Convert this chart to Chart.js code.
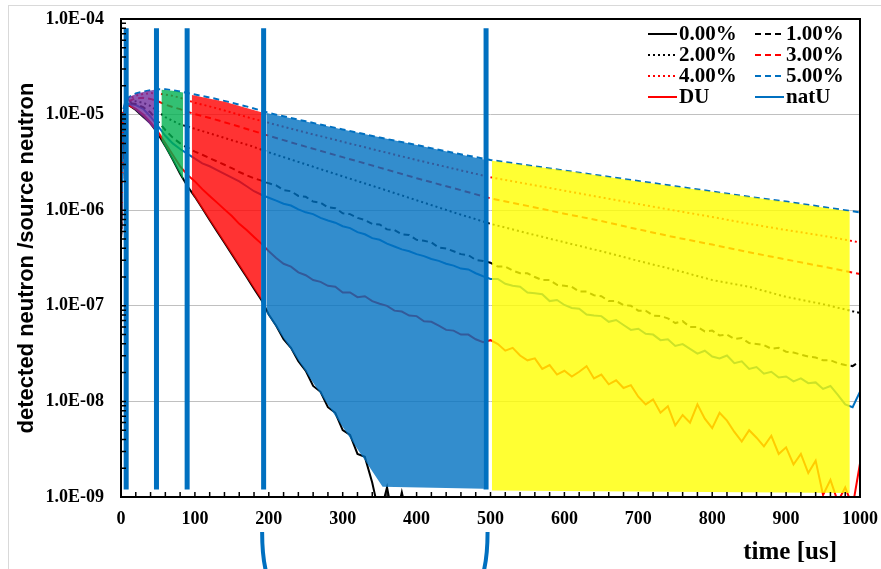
<!DOCTYPE html>
<html>
<head>
<meta charset="utf-8">
<title>detected neutron / source neutron</title>
<script src="https://cdn.jsdelivr.net/npm/chart.js@4.4.1/dist/chart.umd.min.js"></script>
<style>
  html, body { margin: 0; padding: 0; background: #fff; }
  #wrap { width: 881px; height: 569px; }
</style>
</head>
<body>
<div id="wrap"><canvas id="chart" width="881" height="569"></canvas></div>
<script>
// ================================
// DATA
// ================================
const timeSmooth = [0, 3, 6, 10, 20, 30, 40, 50, 60, 70, 80, 90, 100, 125, 150, 175, 200,
  250, 300, 350, 400, 450, 500, 550, 600, 650, 700, 750, 800, 850, 900, 950, 1000];

const pct5 = [5.0e-7, 1.12e-5, 1.38e-5, 1.51e-5, 1.66e-5, 1.74e-5, 1.80e-5, 1.84e-5, 1.84e-5, 1.80e-5,
  1.74e-5, 1.68e-5, 1.62e-5, 1.48e-5, 1.33e-5, 1.19e-5, 1.04e-5,
  8.5e-6, 7.0e-6, 5.75e-6, 4.8e-6, 3.98e-6, 3.35e-6, 2.95e-6, 2.6e-6, 2.29e-6, 2.02e-6,
  1.78e-6, 1.57e-6, 1.38e-6, 1.23e-6, 1.08e-6, 9.5e-7];

const pct4 = [5.0e-7, 1.10e-5, 1.35e-5, 1.45e-5, 1.58e-5, 1.64e-5, 1.68e-5, 1.66e-5, 1.62e-5, 1.57e-5,
  1.50e-5, 1.41e-5, 1.33e-5, 1.19e-5, 1.05e-5, 9.2e-6, 8.2e-6,
  6.5e-6, 5.2e-6, 4.17e-6, 3.35e-6, 2.72e-6, 2.21e-6, 1.88e-6, 1.60e-6, 1.36e-6, 1.16e-6,
  9.9e-7, 8.5e-7, 7.2e-7, 6.2e-7, 5.4e-7, 4.6e-7];

const pct3 = [5.0e-7, 1.07e-5, 1.32e-5, 1.38e-5, 1.48e-5, 1.50e-5, 1.46e-5, 1.38e-5, 1.27e-5, 1.20e-5,
  1.14e-5, 1.07e-5, 1.01e-5, 9.0e-6, 7.9e-6, 6.9e-6, 6.0e-6,
  4.62e-6, 3.59e-6, 2.79e-6, 2.16e-6, 1.70e-6, 1.33e-6, 1.11e-6, 9.2e-7, 7.7e-7, 6.3e-7,
  5.2e-7, 4.37e-7, 3.63e-7, 3.05e-7, 2.57e-7, 2.15e-7];

const pct2 = [5.0e-7, 1.05e-5, 1.29e-5, 1.35e-5, 1.38e-5, 1.33e-5, 1.23e-5, 1.08e-5, 9.4e-6, 8.6e-6,
  7.9e-6, 7.5e-6, 7.1e-6, 6.2e-6, 5.4e-6, 4.73e-6, 4.03e-6,
  3.02e-6, 2.26e-6, 1.70e-6, 1.27e-6, 9.5e-7, 7.2e-7, 5.75e-7, 4.62e-7, 3.72e-7, 2.95e-7,
  2.37e-7, 1.86e-7, 1.58e-7, 1.24e-7, 1.04e-7, 8.4e-8];

const timeNoisy = [0, 3, 6, 10, 20, 30, 40, 50, 60, 70, 80, 90, 100,
  110, 120, 130, 140, 150, 160, 170, 180, 190, 200,
  210, 220, 230, 240, 250, 260, 270, 280, 290, 300,
  310, 320, 330, 340, 350, 360, 370, 380, 390, 400,
  410, 420, 430, 440, 450, 460, 470, 480, 490, 500,
  510, 520, 530, 540, 550, 560, 570, 580, 590, 600,
  610, 620, 630, 640, 650, 660, 670, 680, 690, 700,
  710, 720, 730, 740, 750, 760, 770, 780, 790, 800,
  810, 820, 830, 840, 850, 860, 870, 880, 890, 900,
  910, 920, 930, 940, 950, 960, 970, 980, 990, 1000];

const pct1 = [5.0e-7, 1.02e-5, 1.26e-5, 1.32e-5, 1.29e-5, 1.20e-5, 1.05e-5, 8.5e-6, 6.9e-6, 5.75e-6, 5.0e-6, 4.5e-6, 4.1e-6,
  3.8e-6, 3.5e-6, 3.24e-6, 2.99e-6, 2.75e-6, 2.51e-6, 2.32e-6, 2.16e-6, 2.04e-6, 1.91e-6,
  1.82e-6, 1.62e-6, 1.58e-6, 1.41e-6, 1.38e-6, 1.23e-6, 1.20e-6, 1.07e-6, 1.05e-6, 9.3e-7,
  9.1e-7, 8.3e-7, 7.9e-7, 7.2e-7, 7.1e-7, 6.3e-7, 6.2e-7, 5.6e-7, 5.5e-7, 4.9e-7,
  4.8e-7, 4.6e-7, 4.07e-7, 3.98e-7, 3.72e-7, 3.47e-7, 3.39e-7, 3.02e-7, 2.95e-7, 2.82e-7,
  2.57e-7, 2.57e-7, 2.34e-7, 2.19e-7, 2.19e-7, 2.0e-7, 1.86e-7, 1.86e-7, 1.66e-7, 1.62e-7,
  1.58e-7, 1.41e-7, 1.41e-7, 1.29e-7, 1.26e-7, 1.12e-7, 1.12e-7, 1.02e-7, 1.0e-7, 8.9e-8,
  8.9e-8, 7.9e-8, 7.8e-8, 7.4e-8, 6.6e-8, 6.9e-8, 6.0e-8, 6.0e-8, 5.4e-8, 5.5e-8,
  4.9e-8, 5.0e-8, 4.5e-8, 4.6e-8, 4.07e-8, 3.98e-8, 3.89e-8, 3.55e-8, 3.63e-8, 3.31e-8,
  3.24e-8, 3.09e-8, 2.95e-8, 2.88e-8, 2.69e-8, 2.69e-8, 2.51e-8, 2.40e-8, 2.34e-8, 2.63e-8];

const natU = [5.0e-7, 1.0e-5, 1.23e-5, 1.29e-5, 1.26e-5, 1.15e-5, 9.5e-6, 7.6e-6, 6.0e-6, 5.0e-6, 4.37e-6, 3.89e-6, 3.47e-6,
  3.09e-6, 2.88e-6, 2.63e-6, 2.40e-6, 2.19e-6, 2.0e-6, 1.78e-6, 1.58e-6, 1.45e-6, 1.35e-6,
  1.26e-6, 1.17e-6, 1.12e-6, 1.02e-6, 9.5e-7, 9.1e-7, 8.3e-7, 7.8e-7, 7.4e-7, 6.8e-7,
  6.5e-7, 5.9e-7, 5.6e-7, 5.1e-7, 4.9e-7, 4.47e-7, 4.17e-7, 3.89e-7, 3.72e-7, 3.47e-7,
  3.31e-7, 3.09e-7, 2.95e-7, 2.75e-7, 2.63e-7, 2.45e-7, 2.40e-7, 2.19e-7, 2.04e-7, 1.91e-7,
  1.91e-7, 1.70e-7, 1.62e-7, 1.58e-7, 1.38e-7, 1.35e-7, 1.32e-7, 1.12e-7, 1.15e-7, 1.02e-7,
  9.5e-8, 9.3e-8, 8.1e-8, 7.9e-8, 7.8e-8, 6.8e-8, 7.1e-8, 6.3e-8, 5.6e-8, 5.75e-8,
  5.1e-8, 5.0e-8, 4.37e-8, 4.47e-8, 3.8e-8, 3.98e-8, 3.55e-8, 3.16e-8, 3.39e-8, 2.95e-8,
  2.82e-8, 3.02e-8, 2.51e-8, 2.63e-8, 2.19e-8, 2.29e-8, 1.95e-8, 2.04e-8, 1.78e-8, 1.82e-8,
  1.62e-8, 1.74e-8, 1.55e-8, 1.58e-8, 1.35e-8, 1.45e-8, 1.17e-8, 9.3e-9, 8.7e-9, 1.26e-8];

const DU = [5.0e-7, 9.8e-6, 1.20e-5, 1.26e-5, 1.15e-5, 1.0e-5, 8.3e-6, 6.6e-6, 5.0e-6, 3.8e-6, 2.88e-6, 2.34e-6, 2.0e-6,
  1.66e-6, 1.41e-6, 1.20e-6, 1.02e-6, 8.7e-7, 7.2e-7, 6.2e-7, 5.25e-7, 4.47e-7, 3.72e-7,
  3.16e-7, 2.75e-7, 2.57e-7, 2.24e-7, 2.09e-7, 1.86e-7, 1.78e-7, 1.62e-7, 1.58e-7, 1.38e-7,
  1.38e-7, 1.23e-7, 1.26e-7, 1.12e-7, 1.05e-7, 1.0e-7, 8.9e-8, 8.7e-8, 7.9e-8, 7.8e-8,
  6.9e-8, 6.8e-8, 6.2e-8, 5.6e-8, 5.5e-8, 5.0e-8, 5.0e-8, 4.47e-8, 4.17e-8, 4.37e-8,
  3.98e-8, 3.39e-8, 3.63e-8, 3.02e-8, 2.69e-8, 2.82e-8, 2.19e-8, 2.40e-8, 1.91e-8, 2.09e-8,
  1.82e-8, 2.04e-8, 2.34e-8, 1.74e-8, 1.91e-8, 1.51e-8, 1.66e-8, 1.38e-8, 1.48e-8, 1.12e-8,
  9.3e-9, 1.05e-8, 7.6e-9, 8.9e-9, 5.6e-9, 7.2e-9, 6.0e-9, 9.3e-9, 6.6e-9, 5.25e-9,
  7.6e-9, 6.3e-9, 4.79e-9, 3.8e-9, 5.0e-9, 4.17e-9, 3.39e-9, 4.37e-9, 2.82e-9, 3.31e-9,
  2.19e-9, 2.82e-9, 1.78e-9, 2.40e-9, 1.05e-9, 1.51e-9, 8.9e-10, 1.26e-9, 7.9e-10, 2.24e-9];

// 0.00% falls off the bottom of the axis after ~400 us
const pct0 = [5.0e-7, 9.5e-6, 1.20e-5, 1.26e-5, 1.12e-5, 9.5e-6, 8.1e-6, 6.3e-6, 4.68e-6, 3.39e-6, 2.40e-6, 1.78e-6, 1.38e-6,
  1.05e-6, 7.9e-7, 6.0e-7, 4.57e-7, 3.47e-7, 2.63e-7, 2.0e-7, 1.51e-7, 1.15e-7, 8.1e-8,
  6.2e-8, 4.47e-8, 3.63e-8, 2.63e-8, 2.09e-8, 1.45e-8, 1.26e-8, 8.7e-9, 7.6e-9, 5.0e-9,
  4.47e-9, 2.82e-9, 2.63e-9, 1.41e-9, 6.3e-10, 1.26e-9, 5.0e-10, 1.12e-9, 5.0e-10, 3.2e-10];

// shaded time windows, [time, value] corners
const purpleArea = [[10, 1.52e-5], [20, 1.64e-5], [30, 1.72e-5], [45, 1.82e-5], [45, 7.0e-6], [30, 9.4e-6], [20, 1.1e-5], [10, 1.28e-5]];
const greenArea = [[55, 1.82e-5], [70, 1.78e-5], [84, 1.70e-5], [84, 2.1e-6], [55, 5.3e-6]];
const redArea = [[96, 1.60e-5], [140, 1.36e-5], [190, 1.06e-5], [190, 1.14e-7], [96, 1.5e-6]];
const blueArea = [[197, 1.04e-5], [300, 7.0e-6], [400, 4.8e-6], [491, 3.4e-6], [491, 1.22e-9], [354, 1.28e-9], [197, 8.4e-8]];
const yellowArea = [[502, 3.3e-6], [600, 2.6e-6], [700, 2.0e-6], [800, 1.56e-6], [900, 1.22e-6], [986, 9.7e-7], [986, 1.1e-9], [502, 1.17e-9]];

// vertical window markers
const markerTimes = [7, 48, 89.5, 193, 494];
const markerRange = [8.0e-5, 1.2e-9];
const bracketTimes = [193, 494];

const xTickValues = [0, 100, 200, 300, 400, 500, 600, 700, 800, 900, 1000];
const yTickValues = [1e-9, 1e-8, 1e-7, 1e-6, 1e-5, 1e-4];
const yTickLabels = ['1.0E-09', '1.0E-08', '1.0E-07', '1.0E-06', '1.0E-05', '1.0E-04'];
const legendOrder = ['0.00%', '1.00%', '2.00%', '3.00%', '4.00%', '5.00%', 'DU', 'natU'];
const xTitle = 'time [us]';
const yTitle = 'detected neutron /source neutron';

// ================================
// DATASETS
// ================================
const BLUE = '#0070C0';
const DASH = [6, 4];
const DOT = [2, 3];

function pairs(t, v) {
    return v.map((val, i) => ({ x: t[i], y: val }));
}

const markerSets = markerTimes.map(t => ({
    label: 'marker',
    data: markerRange.map(v => ({ x: t, y: v })),
    borderColor: BLUE,
    borderWidth: 5,
    pointRadius: 0,
    fill: false
}));

const areaSets = [
    [purpleArea, 'rgba(112,48,160,0.8)'],
    [greenArea, 'rgba(0,176,80,0.8)'],
    [redArea, 'rgba(255,0,0,0.8)'],
    [blueArea, 'rgba(0,112,192,0.8)'],
    [yellowArea, 'rgba(255,255,0,0.8)']
].map(([pts, color]) => ({
    label: 'area',
    data: pts.map(([t, v]) => ({ x: t, y: v })),
    borderColor: 'rgba(0,0,0,0)',
    borderWidth: 0,
    backgroundColor: color,
    fill: 'shape',
    pointRadius: 0,
    tension: 0
}));

const seriesSets = [
    { label: '5.00%', data: pairs(timeSmooth, pct5), borderColor: BLUE, borderDash: DASH },
    { label: '4.00%', data: pairs(timeSmooth, pct4), borderColor: '#FF0000', borderDash: DOT },
    { label: '3.00%', data: pairs(timeSmooth, pct3), borderColor: '#FF0000', borderDash: DASH },
    { label: '2.00%', data: pairs(timeSmooth, pct2), borderColor: '#000000', borderDash: DOT },
    { label: '1.00%', data: pairs(timeNoisy, pct1), borderColor: '#000000', borderDash: DASH },
    { label: 'natU', data: pairs(timeNoisy, natU), borderColor: BLUE, borderDash: [] },
    { label: 'DU', data: pairs(timeNoisy, DU), borderColor: '#FF0000', borderDash: [] },
    { label: '0.00%', data: pairs(timeNoisy, pct0), borderColor: '#000000', borderDash: [] }
].map(s => Object.assign(s, { borderWidth: 2, pointRadius: 0, fill: false, tension: 0 }));

// ================================
// PLUGINS
// ================================
const framePlugin = {
    id: 'frame',
    afterDraw(chart) {
        const { ctx, chartArea: a, scales: { x, y } } = chart;
        ctx.save();

        // light outer border of the picture
        ctx.strokeStyle = '#D9D9D9';
        ctx.lineWidth = 1;
        ctx.strokeRect(8.5, 5.5, 900, 600);

        // inside tick marks
        ctx.strokeStyle = '#000';
        ctx.lineWidth = 1.5;
        ctx.beginPath();
        for (let t = 0; t <= 1000; t += 20) {
            const px = x.getPixelForValue(t);
            ctx.moveTo(px, a.bottom);
            ctx.lineTo(px, a.bottom - 5);
        }
        for (let e = -9; e < -4; e++) {
            for (let k = 1; k < 10; k++) {
                const py = y.getPixelForValue(k * Math.pow(10, e));
                ctx.moveTo(a.left, py);
                ctx.lineTo(a.left + 5, py);
            }
        }
        ctx.stroke();

        ctx.lineWidth = 2;
        ctx.strokeRect(a.left, a.top, a.right - a.left, a.bottom - a.top);

        // x title
        ctx.fillStyle = '#000';
        ctx.font = 'bold 25px "Liberation Serif"';
        ctx.textAlign = 'right';
        ctx.textBaseline = 'middle';
        ctx.fillText(xTitle, a.right - 23, 553);
        ctx.restore();
    }
};

// bracket tails under the two long markers
const bracketPlugin = {
    id: 'brackets',
    afterDraw(chart) {
        const { ctx, scales: { x } } = chart;
        ctx.save();
        ctx.strokeStyle = BLUE;
        ctx.lineWidth = 4;
        bracketTimes.forEach((t, i) => {
            const dir = i === 0 ? 1 : -1;
            const px = x.getPixelForValue(t);
            ctx.beginPath();
            ctx.moveTo(px - dir * 1.5, 532);
            ctx.quadraticCurveTo(px - dir * 1.5, 556, px + dir * 2.5, 572);
            ctx.stroke();
        });
        ctx.restore();
    }
};

const legendPlugin = {
    id: 'cornerLegend',
    afterDraw(chart) {
        const { ctx, chartArea: a } = chart;
        ctx.save();
        ctx.font = 'bold 21px "Liberation Serif"';
        ctx.textBaseline = 'middle';
        ctx.textAlign = 'left';
        legendOrder.forEach((label, i) => {
            const ds = chart.data.datasets.find(d => d.label === label);
            const x0 = a.right - 212 + (i % 2) * 107;
            const y0 = a.top + 15 + Math.floor(i / 2) * 21;
            ctx.strokeStyle = ds.borderColor;
            ctx.lineWidth = 2;
            ctx.setLineDash(ds.borderDash);
            ctx.beginPath();
            ctx.moveTo(x0, y0);
            ctx.lineTo(x0 + 29, y0);
            ctx.stroke();
            ctx.setLineDash([]);
            ctx.fillStyle = '#000';
            ctx.fillText(label, x0 + 31, y0 + 1);
        });
        ctx.restore();
    }
};

// ================================
// CHART
// ================================
const tickFont = { family: '"Liberation Serif"', weight: 'bold', size: 18 };

new Chart(document.getElementById('chart'), {
    type: 'line',
    data: { datasets: [...markerSets, ...areaSets, ...seriesSets] },
    options: {
        responsive: false,
        animation: false,
        layout: { padding: { top: 19, right: 21, left: 0, bottom: 0 } },
        plugins: {
            legend: { display: false },
            tooltip: { enabled: false }
        },
        scales: {
            x: {
                type: 'linear',
                min: 0,
                max: 1000,
                afterBuildTicks: s => { s.ticks = xTickValues.map(v => ({ value: v })); },
                afterFit: s => { s.height = 72; s.paddingLeft = 0; s.paddingRight = 0; },
                ticks: {
                    font: tickFont,
                    color: '#000',
                    padding: 12,
                    maxRotation: 0,
                    autoSkip: false,
                    callback: v => String(v)
                },
                grid: { display: false, drawTicks: false },
                border: { display: false }
            },
            y: {
                type: 'logarithmic',
                min: 1e-9,
                max: 1e-4,
                afterBuildTicks: s => { s.ticks = yTickValues.map(v => ({ value: v })); },
                afterFit: s => { s.width = 121; s.paddingTop = 0; s.paddingBottom = 0; },
                ticks: {
                    font: tickFont,
                    color: '#000',
                    padding: 17,
                    autoSkip: false,
                    callback: (v, i) => yTickLabels[i]
                },
                grid: { color: '#C0C0C0', lineWidth: 1, drawTicks: false },
                border: { display: false },
                title: {
                    display: true,
                    text: yTitle,
                    color: '#000',
                    font: { family: '"Liberation Sans"', weight: 'bold', size: 22 },
                    padding: { top: 14, bottom: 0 }
                }
            }
        }
    },
    plugins: [framePlugin, bracketPlugin, legendPlugin]
});
</script>
</body>
</html>
